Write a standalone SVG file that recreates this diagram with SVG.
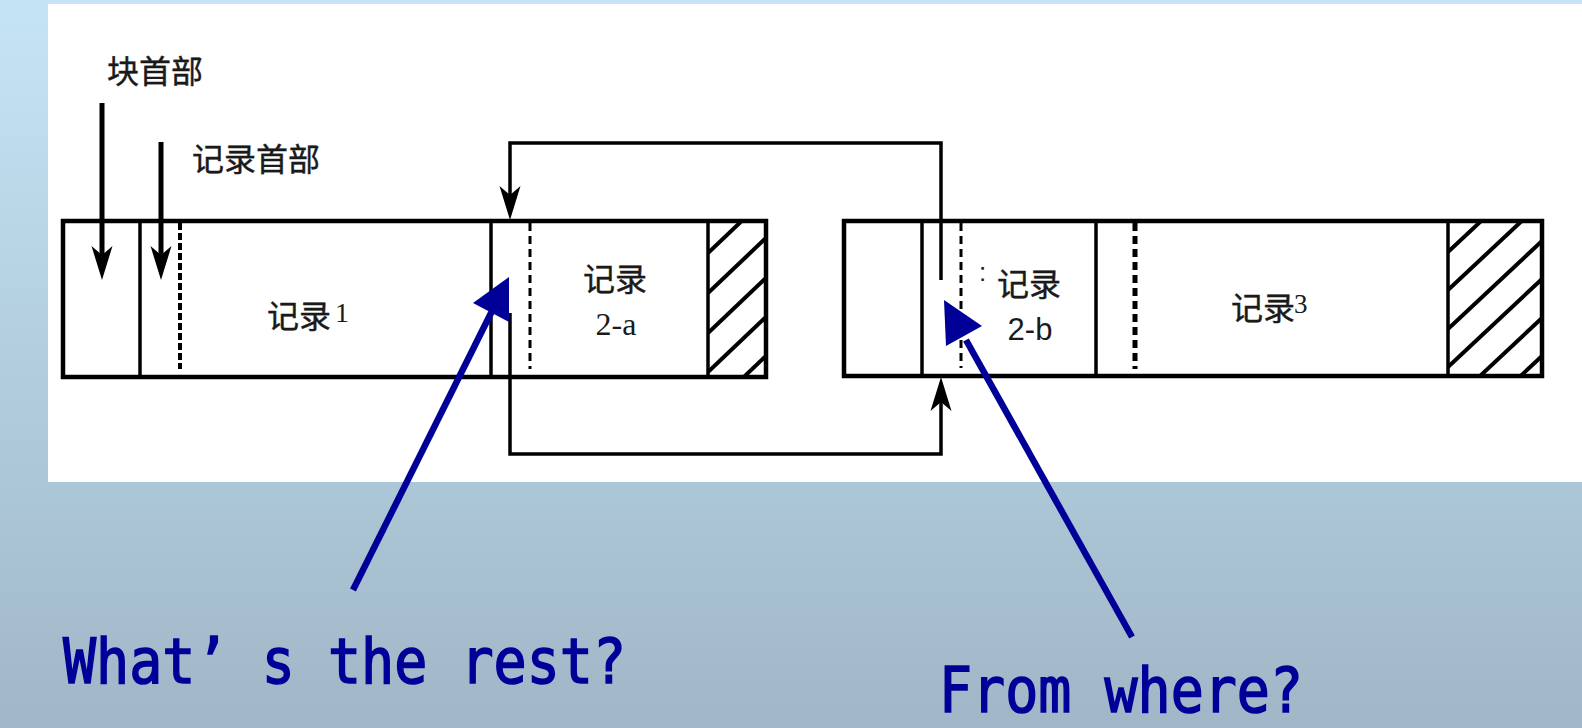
<svg xmlns="http://www.w3.org/2000/svg" width="1582" height="728" viewBox="0 0 1582 728">
<defs>
<linearGradient id="bg" x1="0" y1="0" x2="0" y2="1">
<stop offset="0" stop-color="#c5e4f5"/>
<stop offset="0.66" stop-color="#acc7d7"/>
<stop offset="1" stop-color="#a1b6c6"/>
</linearGradient>
<marker id="blk" viewBox="-35 -11 36 22" refX="-18" refY="0" markerWidth="36" markerHeight="22" markerUnits="userSpaceOnUse" orient="auto">
<path d="M0,0 L-34,-10.5 L-25,0 L-34,10.5 Z" fill="#000"/>
</marker>
<clipPath id="h1"><rect x="708" y="221" width="58" height="156"/></clipPath>
<clipPath id="h2"><rect x="1448" y="221" width="94" height="155"/></clipPath>
<style>
.box{fill:#fff;stroke:#000;stroke-width:4.5}
.div{stroke:#000;stroke-width:3.5;fill:none}
.dash{stroke:#000;fill:none}
.hat{stroke:#000;stroke-width:4;fill:none}
.cn{stroke:#000;stroke-width:3.5;fill:none}
.cjk{font-family:"Noto Sans CJK SC","Noto Sans",sans-serif;fill:#1a1a1a;font-size:32px;stroke:#1a1a1a;stroke-width:0.4}
.ser{font-family:"Liberation Serif",serif;fill:#1a1a1a}
.san{font-family:"Liberation Sans",sans-serif;fill:#1a1a1a}
.q{font-family:"DejaVu Sans Mono",monospace;fill:#000099;font-size:63px;stroke:#000099;stroke-width:1.6}
.bl{stroke:#000099;stroke-width:6.5;fill:none}
.bh{fill:#000099}
</style>
</defs>
<rect x="0" y="0" width="1582" height="728" fill="url(#bg)"/>
<rect x="48" y="4" width="1534" height="478" fill="#fff"/>

<g id="block1">
<rect class="box" x="63" y="221" width="703" height="156"/>
<line class="div" x1="140" y1="221" x2="140" y2="377"/>
<line class="div" x1="491" y1="221" x2="491" y2="377"/>
<line class="div" x1="708" y1="221" x2="708" y2="377"/>
<line class="dash" x1="180" y1="223" x2="180" y2="369" stroke-width="4" stroke-dasharray="7 3"/>
<line class="dash" x1="530" y1="223" x2="530" y2="369" stroke-width="3" stroke-dasharray="8 5"/>
<g clip-path="url(#h1)">
<line class="hat" x1="708" y1="253" x2="767" y2="197"/>
<line class="hat" x1="708" y1="293" x2="767" y2="237"/>
<line class="hat" x1="708" y1="333" x2="767" y2="277"/>
<line class="hat" x1="708" y1="372" x2="767" y2="316"/>
<line class="hat" x1="708" y1="411" x2="767" y2="355"/>
</g>
<text class="cjk" x="267" y="328">记录</text><text class="ser" x="335" y="322" font-size="28">1</text>
<text class="cjk" x="583" y="291">记录</text>
<text class="ser" x="616" y="335" font-size="32" text-anchor="middle">2-a</text>
</g>

<g id="block2">
<rect class="box" x="844" y="221" width="698" height="155"/>
<line class="div" x1="922" y1="221" x2="922" y2="376"/>
<line class="div" x1="1096" y1="221" x2="1096" y2="376"/>
<line class="div" x1="1448" y1="221" x2="1448" y2="376"/>
<line class="dash" x1="961" y1="223" x2="961" y2="368" stroke-width="3" stroke-dasharray="8 5"/>
<line class="dash" x1="1135" y1="223" x2="1135" y2="369" stroke-width="5" stroke-dasharray="8 5"/>
<g clip-path="url(#h2)">
<line class="hat" x1="1448" y1="252" x2="1542" y2="164"/>
<line class="hat" x1="1448" y1="290" x2="1542" y2="202"/>
<line class="hat" x1="1448" y1="329" x2="1542" y2="241"/>
<line class="hat" x1="1448" y1="367" x2="1542" y2="279"/>
<line class="hat" x1="1448" y1="406" x2="1542" y2="318"/>
<line class="hat" x1="1448" y1="444" x2="1542" y2="356"/>
<line class="hat" x1="1448" y1="483" x2="1542" y2="395"/>
</g>
<text class="san" x="979" y="281" font-size="26">:</text>
<text class="cjk" x="997" y="296">记录</text>
<text class="san" x="1030" y="340" font-size="31" text-anchor="middle">2-b</text>
<text class="cjk" x="1231" y="320">记录</text><text class="ser" x="1294" y="313" font-size="27">3</text>
</g>

<g id="label-block-header">
<text class="cjk" x="107" y="83" font-size="33">块首部</text>
</g>
<g id="label-record-header">
<text class="cjk" x="192" y="171" font-size="33">记录首部</text>
</g>

<g id="connectors">
<path d="M102,103 V262" stroke="#000" stroke-width="5" fill="none" marker-end="url(#blk)"/>
<path d="M161,142 V262" stroke="#000" stroke-width="5" fill="none" marker-end="url(#blk)"/>
<path class="cn" d="M941,280 V143 H510 V202" marker-end="url(#blk)"/>
<path class="cn" d="M510,313 V454 H941 V395" marker-end="url(#blk)"/>
<line class="bl" x1="353" y1="590" x2="493" y2="309"/>
<polygon class="bh" points="509,277 473,303 509,322"/>
<line class="bl" x1="1132" y1="637" x2="966" y2="340"/>
<polygon class="bh" points="944,300 982,326 946,346"/>
</g>

<g id="callout-rest">
<text class="q" x="63" y="683" textLength="563" lengthAdjust="spacingAndGlyphs">What’ s the rest?</text>
</g>
<g id="callout-where">
<text class="q" x="939" y="712" textLength="364" lengthAdjust="spacingAndGlyphs">From where?</text>
</g>
</svg>
